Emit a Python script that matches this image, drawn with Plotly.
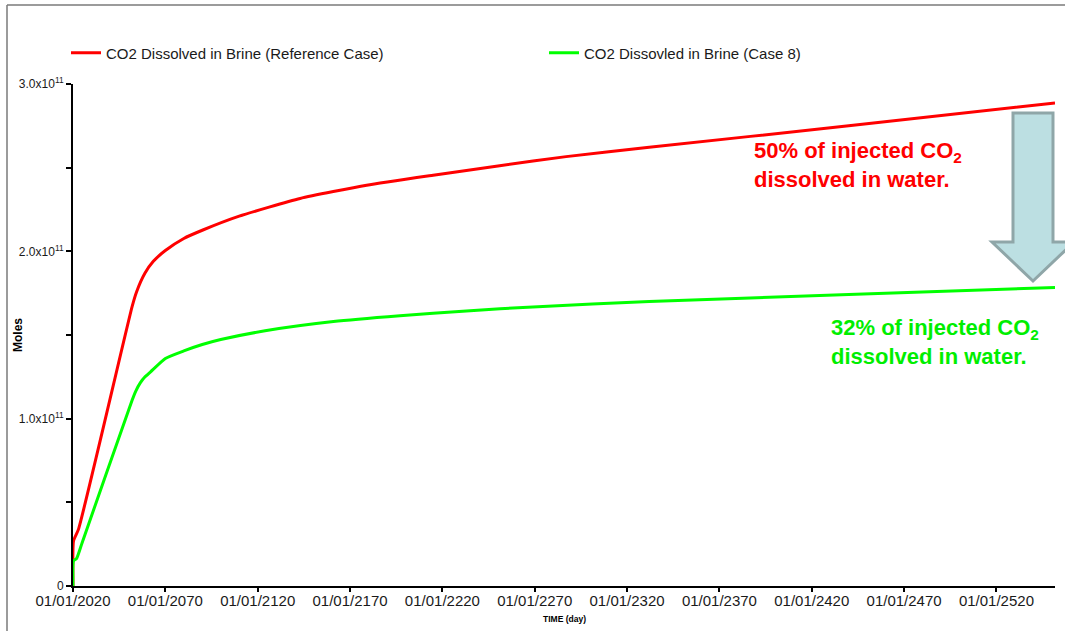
from datetime import datetime, timedelta
import plotly.graph_objects as go

# Simulation time (years after 01/01/2020) and dissolved CO2 in brine (moles)
ref_years = [0, 0.3, 3, 32, 34.5, 39, 43.5, 50, 60, 70, 90, 123, 159, 195,
             231, 267, 312, 420, 531.7]
ref_moles = [0, 0.27e11, 0.34e11, 1.67e11, 1.76e11, 1.87e11, 1.94e11, 2.005e11,
             2.077e11, 2.126e11, 2.21e11, 2.316e11, 2.395e11, 2.455e11,
             2.512e11, 2.566e11, 2.622e11, 2.75e11, 2.887e11]

case8_years = [0, 0.3, 2, 5, 32, 34, 36.5, 39, 42, 50, 60, 70, 80, 104, 141,
               177, 213, 249, 312, 420, 531.7]
case8_moles = [0, 0.15e11, 0.165e11, 0.26e11, 1.11e11, 1.165e11, 1.215e11,
               1.25e11, 1.28e11, 1.36e11, 1.405e11, 1.443e11, 1.473e11,
               1.525e11, 1.58e11, 1.615e11, 1.644e11, 1.668e11, 1.70e11,
               1.742e11, 1.784e11]

tick_years = [2020, 2070, 2120, 2170, 2220, 2270, 2320, 2370, 2420, 2470, 2520]
y_tickvals = [0, 1e11, 2e11, 3e11]
y_ticktext = ["0", "1.0x10<sup>11</sup>", "2.0x10<sup>11</sup>", "3.0x10<sup>11</sup>"]

start = datetime(2020, 1, 1)
end_years = 531.7


def to_dates(years):
    return [(start + timedelta(days=y * 365.25)).strftime("%Y-%m-%d %H:%M")
            for y in years]


W, H = 1065, 631
L, R, T, B = 73, 10, 84, 45
PW, PH = W - L - R, H - T - B


def px(xp):
    return (xp - L) / PW


def py(yp):
    return (H - B - yp) / PH


FONT = "Liberation Sans, Arial, sans-serif"

fig = go.Figure()
fig.add_trace(go.Scatter(
    x=to_dates(ref_years), y=ref_moles, mode="lines",
    name="CO2 Dissolved in Brine (Reference Case)",
    line=dict(color="#ff0000", width=3, shape="spline", smoothing=0.5),
    legend="legend",
))
fig.add_trace(go.Scatter(
    x=to_dates(case8_years), y=case8_moles, mode="lines",
    name="CO2 Dissovled in Brine (Case 8)",
    line=dict(color="#00ff00", width=3, shape="spline", smoothing=0.5),
    legend="legend2",
))

# Downward comparison arrow between the two end values
arrow_pts = [(1013, 113), (1053, 113), (1053, 242), (1074, 242), (1033, 281),
             (992, 242), (1013, 242)]
path = "M " + " L ".join(f"{px(a):.5f},{py(b):.5f}" for a, b in arrow_pts) + " Z"

shapes = [
    dict(type="path", path=path, xref="paper", yref="paper",
         fillcolor="#bcdfe2", line=dict(color="#8fa6a8", width=3), layer="above"),
    # outer frame
    dict(type="line", xref="paper", yref="paper", x0=px(7), x1=px(1070),
         y0=py(5), y1=py(5), line=dict(color="#7a7a7a", width=1.5)),
    dict(type="line", xref="paper", yref="paper", x0=px(7), x1=px(7),
         y0=py(5), y1=py(640), line=dict(color="#7a7a7a", width=1.5)),
]

annotations = [
    dict(text="<b>50% of injected CO<sub>2</sub><br>dissolved in water.</b>",
         xref="paper", yref="paper", x=px(752), y=py(165), xanchor="left",
         yanchor="middle", align="left", showarrow=False,
         font=dict(family=FONT, size=22, color="#ff0000")),
    dict(text="<b>32% of injected CO<sub>2</sub><br>dissolved in water.</b>",
         xref="paper", yref="paper", x=px(829), y=py(342), xanchor="left",
         yanchor="middle", align="left", showarrow=False,
         font=dict(family=FONT, size=22, color="#00ee00")),
    dict(text="<b>Moles</b>", xref="paper", yref="paper", x=px(18), y=py(335),
         xanchor="center", yanchor="middle", textangle=-90, showarrow=False,
         font=dict(family=FONT, size=12, color="#000000")),
    dict(text="<b>TIME (day)</b>", xref="paper", yref="paper", x=px(564),
         y=py(619), xanchor="center", yanchor="middle", showarrow=False,
         font=dict(family=FONT, size=8.5, color="#000000")),
]

fig.update_layout(
    width=W, height=H,
    margin=dict(l=L, r=R, t=T, b=B, autoexpand=False),
    paper_bgcolor="white", plot_bgcolor="white",
    font=dict(family=FONT, color="#1a1a1a"),
    showlegend=True,
    legend=dict(orientation="h", x=px(66), y=py(53), xanchor="left",
                yanchor="middle", font=dict(size=15, color="#1a1a1a"),
                bgcolor="rgba(0,0,0,0)"),
    legend2=dict(orientation="h", x=px(544), y=py(53), xanchor="left",
                 yanchor="middle", font=dict(size=15, color="#1a1a1a"),
                 bgcolor="rgba(0,0,0,0)"),
    shapes=shapes,
    annotations=annotations,
    xaxis=dict(
        type="date",
        range=[start.strftime("%Y-%m-%d"),
               (start + timedelta(days=end_years * 365.25)).strftime("%Y-%m-%d")],
        tickvals=[f"{y}-01-01" for y in tick_years],
        ticktext=[f"01/01/{y}" for y in tick_years],
        ticks="outside", ticklen=4, tickwidth=1.5, tickcolor="#000000",
        ticklabelstandoff=-4,
        showline=True, linecolor="#000000", linewidth=2,
        showgrid=False, zeroline=False,
        tickfont=dict(family=FONT, size=15, color="#1a1a1a"),
    ),
    yaxis=dict(
        range=[0, 3e11],
        tickvals=y_tickvals, ticktext=y_ticktext,
        ticks="outside", ticklen=5, tickwidth=1.5, tickcolor="#000000",
        minor=dict(dtick=5e10, ticks="outside", ticklen=5, tickcolor="#000000",
                   showgrid=False),
        showline=True, linecolor="#000000", linewidth=2,
        showgrid=False, zeroline=False,
        tickfont=dict(family=FONT, size=12, color="#1a1a1a"),
    ),
)

fig.write_html("out.html")
